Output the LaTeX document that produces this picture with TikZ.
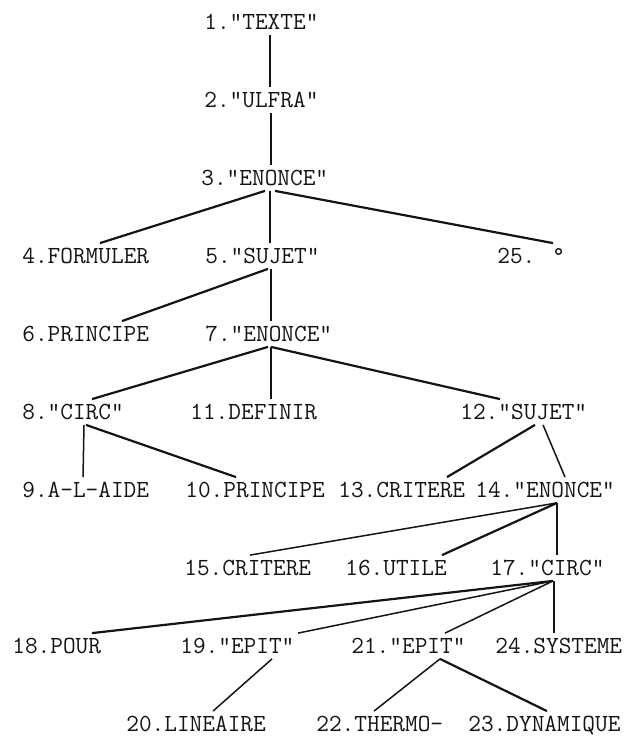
\documentclass[tikz,border=0pt]{standalone}
\usepackage{tikz}
\usetikzlibrary{calc}
\definecolor{typeink}{RGB}{20,20,20}

\begin{document}
\begin{tikzpicture}[x=0.5pt, y=-0.5pt,
    word/.style={anchor=west, inner xsep=0pt, inner ysep=2.5pt, text height=7.5pt, text depth=0pt,
                 font=\fontsize{12.3}{14}\ttfamily, text=typeink},
    edge/.style={draw=typeink, line width=1.1pt},
    thinedge/.style={draw=typeink, line width=0.75pt}]
\useasboundingbox (0,0) rectangle (634,742);

% Rows of the tree (typewritten labels)
\node[word] (n1) at (204,22) {1."TEXTE"};
\node[word] (n2) at (204,100) {2."ULFRA"};
\node[word] (n3) at (201,178) {3."ENONCE"};
\node[word] (n4) at (22,256) {4.FORMULER};
\node[word] (n5) at (205,256) {5."SUJET"};
\node[word] (n25) at (497,256) {25. °};
\node[word] (n6) at (22,334) {6.PRINCIPE};
\node[word] (n7) at (205,334) {7."ENONCE"};
\node[word] (n8) at (22,412) {8."CIRC"};
\node[word] (n11) at (190,412) {11.DEFINIR};
\node[word] (n12) at (460,412) {12."SUJET"};
\node[word] (n9) at (22,490) {9.A-L-AIDE};
\node[word] (n10) at (185,490) {10.PRINCIPE};
\node[word] (n13) at (338,490) {13.CRITERE};
\node[word] (n14) at (475,490) {14."ENONCE"};
\node[word] (n15) at (184,568) {15.CRITERE};
\node[word] (n16) at (345,568) {16.UTILE};
\node[word] (n17) at (490,568) {17."CIRC"};
\node[word] (n18) at (12,646) {18.POUR};
\node[word] (n19) at (180,646) {19."EPIT"};
\node[word] (n21) at (351,646) {21."EPIT"};
\node[word] (n24) at (495,646) {24.SYSTEME};
\node[word] (n20) at (126,724) {20.LINEAIRE};
\node[word] (n22) at (316,724) {22.THERMO-};
\node[word] (n23) at (468,724) {23.DYNAMIQUE};

% Branches
\draw[thinedge] ($(n1.south west)+(66,0)$) -- ($(n2.north west)+(66,0)$);
\draw[thinedge] ($(n2.south west)+(67,0)$) -- ($(n3.north west)+(70,0)$);
\draw[edge] ($(n3.south west)+(64,0)$) -- ($(n4.north west)+(78,0)$);
\draw[thinedge] ($(n3.south west)+(69,0)$) -- ($(n5.north west)+(65,0)$);
\draw[edge] ($(n3.south west)+(74,0)$) -- ($(n25.north west)+(56,0)$);
\draw[edge] ($(n5.south west)+(63,0)$) -- ($(n6.north west)+(100,0)$);
\draw[thinedge] ($(n5.south west)+(66,0)$) -- ($(n7.north west)+(66,0)$);
\draw[edge] ($(n7.south west)+(63,0)$) -- ($(n8.north west)+(70,0)$);
\draw[thinedge] ($(n7.south west)+(66,0)$) -- ($(n11.north west)+(81,0)$);
\draw[edge] ($(n7.south west)+(66,0)$) -- ($(n12.north west)+(40,0)$);
\draw[thinedge] ($(n8.south west)+(62,0)$) -- ($(n9.north west)+(61,0)$);
\draw[edge] ($(n8.south west)+(64,0)$) -- ($(n10.north west)+(51,0)$);
\draw[edge] ($(n12.south west)+(75,0)$) -- ($(n13.north west)+(109,0)$);
\draw[thinedge] ($(n12.south west)+(83,0)$) -- ($(n14.north west)+(90,0)$);
\draw[thinedge] ($(n14.south west)+(82,0)$) -- ($(n15.north west)+(66,0)$);
\draw[edge] ($(n14.south west)+(82,0)$) -- ($(n16.north west)+(97,0)$);
\draw[edge] ($(n14.south west)+(82,0)$) -- ($(n17.north west)+(67,0)$);
\draw[edge] ($(n17.south west)+(63,0)$) -- ($(n18.north west)+(80,0)$);
\draw[thinedge] ($(n17.south west)+(63,0)$) -- ($(n19.north west)+(118,0)$);
\draw[thinedge] ($(n17.south west)+(63,0)$) -- ($(n21.north west)+(94,0)$);
\draw[edge] ($(n17.south west)+(64,0)$) -- ($(n24.north west)+(59,0)$);
\draw[thinedge] ($(n19.south west)+(92,0)$) -- ($(n20.north west)+(87,0)$);
\draw[thinedge] ($(n21.south west)+(89,0)$) -- ($(n22.north west)+(58,0)$);
\draw[edge] ($(n21.south west)+(89,0)$) -- ($(n23.north west)+(79,0)$);
\end{tikzpicture}
\end{document}
